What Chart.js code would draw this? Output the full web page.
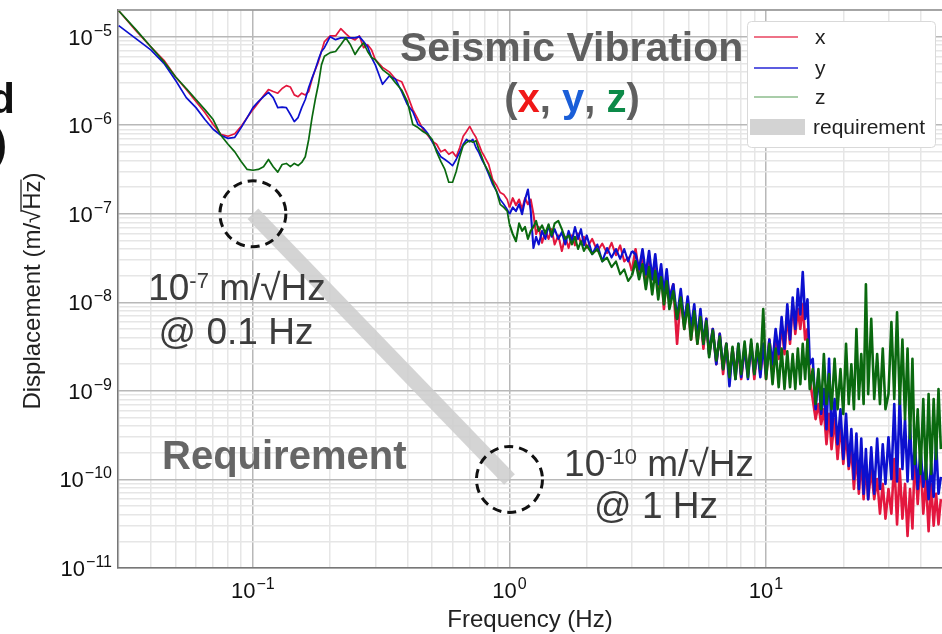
<!DOCTYPE html>
<html>
<head>
<meta charset="utf-8">
<script src="https://cdn.jsdelivr.net/npm/chart.js@4.4.0/dist/chart.umd.min.js"></script>
<style>
  html, body { margin: 0; padding: 0; background: #fff; }
  #wrap { position: relative; width: 942px; height: 634px; }
</style>
</head>
<body>
<div id="wrap"><canvas id="chart-psd"></canvas></div>
<script>
// frecuencias (Hz)
const freqs = [
  0.03, 0.035, 0.04, 0.045, 0.05, 0.055, 0.06, 0.065, 0.07, 0.075, 0.08, 0.085, 0.09, 0.095,
  0.1, 0.105, 0.11, 0.115, 0.12, 0.125, 0.13, 0.135, 0.14, 0.145, 0.15, 0.155, 0.16, 0.165,
  0.17, 0.175, 0.18, 0.185, 0.19, 0.2, 0.21, 0.22, 0.23, 0.24, 0.25, 0.26, 0.27, 0.28, 0.29,
  0.3, 0.32, 0.34, 0.36, 0.38, 0.4, 0.42, 0.44, 0.46, 0.48, 0.5,
  0.52, 0.54, 0.56, 0.58, 0.6, 0.62, 0.64, 0.66, 0.68, 0.7, 0.72, 0.74, 0.76, 0.78, 0.8,
  0.83, 0.86, 0.89, 0.92, 0.95, 0.98, 1.0, 1.03, 1.06, 1.09, 1.12, 1.15, 1.18, 1.21, 1.24,
  1.27, 1.3, 1.34, 1.38, 1.42, 1.46, 1.5, 1.55, 1.6, 1.65, 1.7, 1.75, 1.8, 1.85, 1.9, 1.95,
  2.0, 2.1, 2.2, 2.3, 2.4, 2.5, 2.6, 2.7, 2.8, 2.9, 3.0,
  3.1, 3.2, 3.3, 3.4, 3.5, 3.6, 3.7, 3.8, 3.9, 4.0,
  4.1, 4.2, 4.35, 4.5, 4.65, 4.8, 4.95, 5.1, 5.25, 5.4,
  5.55, 5.7, 5.85, 6.0, 6.2, 6.4, 6.6, 6.8, 7.0, 7.2,
  7.4, 7.6, 7.8, 8.0, 8.25, 8.5, 8.75, 9.0, 9.25, 9.5,
  9.75, 10, 10.3, 10.6, 10.9, 11.2, 11.5, 11.8, 12.1, 12.4,
  12.7, 13, 13.3, 13.6, 13.9, 14.2, 14.5, 14.8, 15.2, 15.6,
  16, 16.4, 16.8, 17.2, 17.6, 18, 18.5, 19, 19.5, 20,
  20.5, 21, 21.5, 22, 22.5, 23, 23.5, 24, 24.5, 25,
  25.7, 26.4, 27.1, 27.8, 28.5, 29.2, 30, 30.8, 31.6, 32.4,
  33.2, 34, 34.8, 35.6, 36.4, 37.2, 38, 39, 40, 41,
  42, 43, 44, 45, 46, 47, 48
]

// desplazamiento eje x (m/sqrt(Hz))
const dispX = [
  1.96e-5, 1.17e-5, 7.7e-6, 5.4e-6, 3.5e-6, 2.53e-6, 1.85e-6, 1.39e-6, 1.02e-6, 7.9e-7,
  7.5e-7, 8.0e-7, 9.7e-7, 1.22e-6, 1.5e-6, 1.8e-6, 2.15e-6, 2.53e-6, 2.4e-6, 2.3e-6,
  2.6e-6, 2.8e-6, 2.7e-6, 2.2e-6, 2.1e-6, 2.3e-6, 2.2e-6, 2.4e-6, 3.3e-6, 4.25e-6,
  5.2e-6, 6.8e-6, 8.8e-6, 1.02e-5, 1.02e-5, 1.23e-5, 1.08e-5, 9.7e-6, 9.2e-6, 1.02e-5,
  7.5e-6, 8.1e-6, 7.1e-6, 5.5e-6, 4.5e-6, 4.0e-6, 3.3e-6, 3.1e-6, 2.2e-6, 1.5e-6,
  1.16e-6, 9.0e-7, 7.7e-7, 6.6e-7,
  6.1e-7, 5.0e-7, 5.3e-7, 4.7e-7, 5.0e-7, 4.4e-7, 5.6e-7, 7.5e-7, 8.5e-7, 9.7e-7, 8.3e-7,
  7.3e-7, 6.1e-7, 5.0e-7, 4.4e-7, 3.6e-7, 2.44e-7, 2.1e-7, 1.74e-7, 1.65e-7, 1.45e-7,
  1.18e-7, 1.5e-7, 1.25e-7, 1.45e-7, 1.12e-7, 1.5e-7, 1.28e-7, 1.45e-7, 9.9e-8, 5.9e-8,
  7.1e-8, 4.7e-8, 6.4e-8, 5.2e-8, 6.7e-8, 4.5e-8, 5.7e-8, 3.8e-8, 5.5e-8, 4.1e-8, 5.7e-8,
  4.4e-8, 6.0e-8, 4.6e-8, 5.5e-8, 4.1e-8, 5.2e-8, 3.8e-8, 4.6e-8, 3.6e-8, 4.7e-8, 3.4e-8,
  4.4e-8, 2.9e-8, 3.2e-8, 2.25e-8,
  3.97e-8, 2.07e-8, 3.49e-8, 1.6e-8, 3.06e-8, 1.82e-8, 2.69e-8, 1.41e-8, 2.36e-8, 8.4e-9,
  2.07e-8, 1.08e-8, 1.6e-8, 3.4e-9, 1.23e-8, 5.0e-9, 1.08e-8, 3.8e-9, 8.4e-9, 3.4e-9,
  7.3e-9, 3.0e-9, 6.5e-9, 2.6e-9, 5.0e-9, 2.0e-9, 4.4e-9, 1.55e-9, 3.4e-9, 1.36e-9,
  3.0e-9, 1.55e-9, 3.0e-9, 1.36e-9, 3.0e-9, 1.55e-9, 3.4e-9, 1.36e-9, 3.0e-9, 1.55e-9,
  3.4e-9, 1.36e-9, 3.8e-9, 1.76e-9, 4.4e-9, 2.3e-9, 5.7e-9, 2.6e-9, 7.3e-9, 3.4e-9,
  1.0e-8, 4.4e-9, 8.4e-9, 5.0e-9, 9.5e-9, 3.8e-9, 5.0e-9, 1.36e-9, 8.1e-10, 4.8e-10,
  7.1e-10, 4.2e-10, 6.2e-10, 2.5e-10, 5.5e-10, 2.2e-10, 4.8e-10, 1.7e-10, 4.2e-10, 1.5e-10,
  3.3e-10, 1.31e-10, 2.2e-10, 7.8e-11, 1.94e-10, 6.9e-11, 1.7e-10, 6.0e-11, 1.5e-10, 6.0e-11,
  1.31e-10, 6.0e-11, 1.01e-10, 4.1e-11, 8.9e-11, 3.6e-11, 7.8e-11, 4.1e-11, 1.7e-10, 3.1e-11,
  1.31e-10, 3.6e-11, 8.9e-11, 2.3e-11, 7.8e-11, 2.8e-11, 1.94e-10, 5.3e-11, 1.7e-10, 4.1e-11,
  1.01e-10, 2.6e-11, 8.9e-11, 3.0e-11, 6.9e-11, 3.1e-11, 6.0e-11
]

// desplazamiento eje y
const dispY = [
  1.33e-5, 9.5e-6, 7.1e-6, 5.0e-6, 3.2e-6, 2.05e-6, 1.58e-6, 1.16e-6, 9.0e-7, 7.7e-7,
  7.1e-7, 7.3e-7, 9.4e-7, 1.22e-6, 1.58e-6, 1.85e-6, 2.1e-6, 2.35e-6, 2.05e-6, 1.58e-6,
  1.6e-6, 1.58e-6, 1.32e-6, 1.1e-6, 1.22e-6, 1.58e-6, 1.95e-6, 2.66e-6, 3.4e-6, 4.25e-6,
  5.5e-6, 6.8e-6, 7.5e-6, 1.0e-5, 9.25e-6, 9.7e-6, 9.7e-6, 9.7e-6, 9.7e-6, 1.0e-5,
  8.8e-6, 7.7e-6, 5.8e-6, 4.8e-6, 2.9e-6, 3.6e-6, 3.3e-6, 2.4e-6, 1.71e-6, 1.42e-6,
  1.02e-6, 9.4e-7, 8.1e-7, 6.5e-7,
  5.3e-7, 4.4e-7, 4.1e-7, 3.8e-7, 3.5e-7, 4.1e-7, 5.0e-7, 6.1e-7, 6.9e-7, 6.5e-7, 6.9e-7,
  5.6e-7, 4.9e-7, 4.1e-7, 3.6e-7, 2.78e-7, 2.15e-7, 1.8e-7, 1.45e-7, 1.28e-7, 1.12e-7,
  9.9e-8, 1.18e-7, 1.07e-7, 1.28e-7, 9.9e-8, 1.45e-7, 1.88e-7, 1.07e-7, 4.1e-8, 5.5e-8,
  4.5e-8, 6.4e-8, 5.2e-8, 7.4e-8, 5.5e-8, 6.7e-8, 5.2e-8, 6.2e-8, 4.5e-8, 6.4e-8, 4.9e-8,
  7.1e-8, 5.2e-8, 6.7e-8, 4.4e-8, 5.7e-8, 3.5e-8, 4.5e-8, 2.9e-8, 4.1e-8, 3.2e-8, 4.0e-8,
  3.1e-8, 4.0e-8, 2.9e-8, 3.8e-8,
  3.49e-8, 2.36e-8, 3.97e-8, 2.07e-8, 3.8e-8, 1.82e-8, 3.49e-8, 1.6e-8, 2.69e-8, 1.23e-8,
  2.36e-8, 1.08e-8, 1.6e-8, 6.5e-9, 1.41e-8, 5.7e-9, 1.16e-8, 5.0e-9, 9.5e-9, 3.8e-9,
  8.4e-9, 3.4e-9, 6.5e-9, 2.6e-9, 5.0e-9, 2.0e-9, 4.4e-9, 1.76e-9, 3.4e-9, 1.13e-9,
  3.0e-9, 1.36e-9, 3.4e-9, 1.43e-9, 3.15e-9, 1.36e-9, 3.4e-9, 1.55e-9, 3.0e-9, 1.43e-9,
  3.4e-9, 1.55e-9, 3.8e-9, 2.0e-9, 5.0e-9, 2.6e-9, 6.8e-9, 3.0e-9, 9.5e-9, 3.8e-9,
  1.13e-8, 5.0e-9, 1.41e-8, 7.3e-9, 2.2e-8, 6.5e-9, 1.08e-8, 2.0e-9, 2.3e-9, 6.2e-10,
  1.55e-9, 5.5e-10, 1.05e-9, 3.7e-10, 2.3e-9, 3.1e-10, 8.1e-10, 2.5e-10, 6.2e-10, 1.7e-10,
  5.5e-10, 1.42e-10, 3.7e-10, 1.01e-10, 3.3e-10, 7.8e-11, 2.9e-10, 6.9e-11, 2.2e-10, 6.0e-11,
  2.3e-10, 6.9e-11, 2.9e-10, 7.8e-11, 2.5e-10, 8.9e-11, 3.0e-10, 1.01e-10, 7.1e-10, 9.5e-11,
  8.8e-10, 1.31e-10, 4.8e-10, 9.5e-11, 4.2e-10, 1.01e-10, 2.5e-10, 7.8e-11, 2.2e-10, 8.3e-11,
  1.5e-10, 6.0e-11, 1.5e-10, 6.4e-11, 2.7e-10, 6.9e-11, 1.07e-10
]

// desplazamiento eje z
const dispZ = [
  1.96e-5, 1.2e-5, 7.7e-6, 5.2e-6, 3.5e-6, 2.6e-6, 1.95e-6, 1.5e-6, 1.16e-6, 7.7e-7,
  6.1e-7, 5.0e-7, 3.9e-7, 3.17e-7, 3.1e-7, 3.17e-7, 3.4e-7, 4.1e-7, 3.4e-7, 2.95e-7,
  3.6e-7, 3.7e-7, 3.4e-7, 3.7e-7, 3.5e-7, 3.8e-7, 4.4e-7, 6.9e-7, 1.22e-6, 1.95e-6,
  2.9e-6, 4.8e-6, 6.0e-6, 6.6e-6, 6.8e-6, 8.1e-6, 9.7e-6, 8.1e-6, 6.3e-6, 7.5e-6,
  8.5e-6, 6.8e-6, 5.8e-6, 5.5e-6, 4.25e-6, 3.7e-6, 3.0e-6, 2.5e-6, 1.85e-6, 1.02e-6,
  9.4e-7, 8.5e-7, 7.9e-7, 6.9e-7,
  5.0e-7, 3.9e-7, 3.17e-7, 2.27e-7, 2.27e-7, 3.0e-7, 4.4e-7, 5.9e-7, 6.4e-7, 6.7e-7, 6.4e-7,
  6.7e-7, 5.3e-7, 4.4e-7, 3.6e-7, 2.95e-7, 2.3e-7, 1.8e-7, 1.28e-7, 1.18e-7, 1.07e-7,
  7.6e-8, 5.9e-8, 4.9e-8, 7.8e-8, 6.4e-8, 7.1e-8, 5.2e-8, 6.4e-8, 7.1e-8, 8.3e-8,
  6.4e-8, 7.4e-8, 6.0e-8, 7.6e-8, 5.7e-8, 7.8e-8, 8.3e-8, 6.7e-8, 5.2e-8, 5.7e-8, 4.5e-8,
  5.5e-8, 4.0e-8, 4.9e-8, 3.8e-8, 4.4e-8, 3.5e-8, 4.0e-8, 2.9e-8, 3.2e-8, 2.5e-8, 2.9e-8,
  2.07e-8, 2.36e-8, 1.74e-8, 2.0e-8,
  2.9e-8, 1.82e-8, 2.69e-8, 1.41e-8, 2.5e-8, 1.23e-8, 2.25e-8, 1.08e-8, 1.92e-8, 9.5e-9,
  1.73e-8, 8.4e-9, 1.33e-8, 6.5e-9, 1.13e-8, 5.0e-9, 9.5e-9, 3.8e-9, 7.9e-9, 3.4e-9,
  6.8e-9, 3.4e-9, 6.1e-9, 2.4e-9, 4.8e-9, 2.2e-9, 4.1e-9, 1.76e-9, 3.4e-9, 1.43e-9,
  3.15e-9, 1.36e-9, 3.4e-9, 1.55e-9, 3.6e-9, 1.43e-9, 3.8e-9, 1.55e-9, 3.4e-9, 1.76e-9,
  8.4e-9, 1.36e-9, 3.4e-9, 1.19e-9, 3.0e-9, 1.1e-9, 3.0e-9, 1.05e-9, 2.8e-9, 1.1e-9,
  2.6e-9, 1.05e-9, 3.0e-9, 1.19e-9, 3.4e-9, 1.36e-9, 3.8e-9, 1.05e-9, 1.76e-9, 7.1e-10,
  1.76e-9, 6.2e-10, 2.6e-9, 7.1e-10, 1.55e-9, 6.2e-10, 2.3e-9, 6.2e-10, 1.76e-9, 5.5e-10,
  3.4e-9, 7.1e-10, 2.0e-9, 6.2e-10, 5.0e-9, 8.1e-10, 2.6e-9, 7.1e-10, 1.6e-8, 9.2e-10,
  6.5e-9, 8.1e-10, 2.6e-9, 7.1e-10, 3.0e-9, 6.2e-10, 9.2e-10, 6.0e-9, 8.1e-10, 7.7e-9,
  7.1e-10, 3.8e-9, 4.8e-10, 3.0e-9, 2.9e-10, 2.3e-9, 1.5e-10, 6.2e-10, 1.15e-10, 8.1e-10,
  1.01e-10, 9.2e-10, 1.15e-10, 8.1e-10, 1.7e-10, 1.05e-9, 2.2e-10
]

// requerimiento
const reqFreqs = [0.1, 1]
const reqValues = [1e-7, 1e-10]

// ticks
const xMajorTicks = [0.1, 1, 10]
const xTickExps = ['\u22121', '0', '1']
const yMajorTicks = [1e-11, 1e-10, 1e-9, 1e-8, 1e-7, 1e-6, 1e-5]
const yTickExps = ['\u221211', '\u221210', '\u22129', '\u22128', '\u22127', '\u22126', '\u22125']

const FONT = '"Liberation Sans", Arial, sans-serif'

function puntos(xs, ys) {
  return xs.map((x, i) => ({ x, y: ys[i] }))
}

function conMenores(majors, min, max) {
  const ticks = []
  majors.concat([majors[0] / 10]).forEach(d => {
    for (let m = 1; m <= 9; m++) {
      const v = d * m
      if (v >= min * 0.999 && v <= max * 1.001) ticks.push({ value: v })
    }
  })
  return ticks.sort((a, b) => a.value - b.value)
}

function esMayor(v) {
  const l = Math.log10(v)
  return Math.abs(l - Math.round(l)) < 1e-6
}

function potencia(ctx, exp, x, y, align) {
  ctx.font = `22px ${FONT}`
  const w10 = ctx.measureText('10').width
  ctx.font = `16px ${FONT}`
  const wExp = ctx.measureText(exp).width
  const total = w10 + 1 + wExp
  const x0 = align === 'right' ? x - total : x - total / 2
  ctx.textAlign = 'left'
  ctx.font = `22px ${FONT}`
  ctx.fillText('10', x0, y)
  ctx.font = `16px ${FONT}`
  ctx.fillText(exp, x0 + w10 + 1, y - 9)
}

function textoPartes(ctx, partes, cx, y) {
  let total = 0
  partes.forEach(p => {
    ctx.font = p.font
    p.w = ctx.measureText(p.t).width
    total += p.w
  })
  let x = cx - total / 2
  ctx.textAlign = 'left'
  partes.forEach(p => {
    ctx.font = p.font
    ctx.fillStyle = p.color
    ctx.fillText(p.t, x, y - (p.rise || 0))
    x += p.w
  })
}

const overlay = {
  id: 'overlay',
  afterDatasetsDraw(chart) {
    const { ctx, scales: { x, y } } = chart
    ctx.save()
    ctx.strokeStyle = '#111'
    ctx.lineWidth = 3
    ctx.setLineDash([9, 6])
    reqFreqs.forEach((f, i) => {
      ctx.beginPath()
      ctx.arc(x.getPixelForValue(f), y.getPixelForValue(reqValues[i]), 33, 0, Math.PI * 2)
      ctx.stroke()
    })
    ctx.restore()
  },
  afterDraw(chart) {
    const { ctx, chartArea: area, scales: { x, y } } = chart
    ctx.save()

    // borde superior
    ctx.strokeStyle = '#8c8c8c'
    ctx.lineWidth = 1.5
    ctx.beginPath()
    ctx.moveTo(area.left, area.top)
    ctx.lineTo(area.right, area.top)
    ctx.stroke()

    // etiquetas de ticks
    ctx.fillStyle = '#111'
    ctx.textBaseline = 'alphabetic'
    yMajorTicks.forEach((v, i) => potencia(ctx, yTickExps[i], 112, y.getPixelForValue(v) + 8, 'right'))
    xMajorTicks.forEach((v, i) => potencia(ctx, xTickExps[i], x.getPixelForValue(v), 598, 'center'))

    // titulos de ejes
    ctx.fillStyle = '#222'
    ctx.font = `24px ${FONT}`
    ctx.textAlign = 'center'
    ctx.fillText('Frequency (Hz)', (area.left + area.right) / 2, 627)

    ctx.save()
    ctx.translate(40, 291)
    ctx.rotate(-Math.PI / 2)
    ctx.font = `24px ${FONT}`
    const tituloY = 'Displacement (m/\u221AHz)'
    const wTot = ctx.measureText(tituloY).width
    const wPre = ctx.measureText('Displacement (m/\u221A').width
    const wHz = ctx.measureText('Hz').width
    ctx.textAlign = 'left'
    ctx.fillText(tituloY, -wTot / 2, 0)
    ctx.strokeStyle = '#222'
    ctx.lineWidth = 1.3
    ctx.beginPath()
    ctx.moveTo(-wTot / 2 + wPre - 2, -19)
    ctx.lineTo(-wTot / 2 + wPre + wHz + 1, -19)
    ctx.stroke()
    ctx.restore()

    // leyenda
    ctx.fillStyle = '#fff'
    ctx.strokeStyle = '#d9d9d9'
    ctx.lineWidth = 1
    ctx.beginPath()
    ctx.roundRect(747.5, 21.5, 188, 126, 4)
    ctx.fill()
    ctx.stroke()
    const legendColors = ['#e8435f', '#2626d6', '#8dbd8d']
    const rows = [37, 68, 97]
    ctx.font = `21px ${FONT}`
    ctx.textAlign = 'left'
    chart.data.datasets.slice(0, 3).forEach((ds, i) => {
      ctx.strokeStyle = legendColors[i]
      ctx.lineWidth = 1.5
      ctx.beginPath()
      ctx.moveTo(754, rows[i])
      ctx.lineTo(798, rows[i])
      ctx.stroke()
      ctx.fillStyle = '#222'
      ctx.fillText(ds.label, 815, rows[i] + 7)
    })
    ctx.fillStyle = '#d3d3d3'
    ctx.fillRect(750, 119, 55, 16)
    ctx.fillStyle = '#222'
    ctx.fillText(chart.data.datasets[3].label, 813, 134)

    // anotaciones
    ctx.fillStyle = '#5f5f5f'
    ctx.font = `bold 41px ${FONT}`
    ctx.textAlign = 'left'
    ctx.fillText('Seismic Vibration', 400, 61)

    const gris = '#5f5f5f'
    const fb = `bold 40px ${FONT}`
    textoPartes(ctx, [
      { t: '(', font: fb, color: gris },
      { t: 'x', font: fb, color: '#f01818' },
      { t: ', ', font: fb, color: gris },
      { t: 'y', font: fb, color: '#1a5ed8' },
      { t: ', ', font: fb, color: gris },
      { t: 'z', font: fb, color: '#0c8a48' },
      { t: ')', font: fb, color: gris }
    ], 572, 112)

    ctx.fillStyle = '#666'
    ctx.font = `bold 40px ${FONT}`
    ctx.textAlign = 'left'
    ctx.fillText('Requirement', 162, 469)

    const oscuro = '#3c3c3c'
    const fr = `37px ${FONT}`
    const fs = `22px ${FONT}`
    textoPartes(ctx, [
      { t: '10', font: fr, color: oscuro },
      { t: '-7', font: fs, color: oscuro, rise: 12 },
      { t: ' m/\u221AHz', font: fr, color: oscuro }
    ], 237, 300)
    textoPartes(ctx, [{ t: '@ 0.1 Hz', font: fr, color: oscuro }], 236, 344)
    textoPartes(ctx, [
      { t: '10', font: fr, color: oscuro },
      { t: '-10', font: fs, color: oscuro, rise: 12 },
      { t: ' m/\u221AHz', font: fr, color: oscuro }
    ], 659, 476)
    textoPartes(ctx, [{ t: '@ 1 Hz', font: fr, color: oscuro }], 656, 518)

    // texto recortado del borde izquierdo
    ctx.fillStyle = '#111'
    ctx.font = `bold 42px ${FONT}`
    ctx.textAlign = 'right'
    ctx.fillText('d', 15, 113)
    ctx.fillText(')', 7, 158)

    ctx.restore()
  }
}

function gridColor(c) {
  return esMayor(c.tick.value) ? '#b8b8b8' : '#e6e6e6'
}

// tramo ruidoso con trazo mas grueso
function anchoTramo(c) {
  const f = c.p0.parsed.x
  if (f >= 3) return 2.6
  if (f >= 1) return 2.1
  return 1.7
}

const ctx = document.getElementById('chart-psd').getContext('2d')

new Chart(ctx, {
  type: 'line',
  data: {
    datasets: [
      {
        label: 'x',
        data: puntos(freqs, dispX),
        borderColor: '#e3173e',
        borderWidth: 1.7,
        segment: { borderWidth: anchoTramo },
        order: 2
      },
      {
        label: 'y',
        data: puntos(freqs, dispY),
        borderColor: '#0c10cf',
        borderWidth: 1.7,
        segment: { borderWidth: anchoTramo },
        order: 1
      },
      {
        label: 'z',
        data: puntos(freqs, dispZ),
        borderColor: '#0a690f',
        borderWidth: 1.7,
        segment: { borderWidth: anchoTramo },
        order: 0
      },
      {
        label: 'requirement',
        data: puntos(reqFreqs, reqValues),
        borderColor: 'rgba(205, 205, 205, 0.85)',
        borderWidth: 15,
        borderCapStyle: 'butt',
        order: 3
      }
    ]
  },
  options: {
    responsive: true,
    maintainAspectRatio: false,
    animation: false,
    events: [],
    elements: {
      point: { radius: 0 },
      line: { tension: 0, borderJoinStyle: 'round' }
    },
    layout: { padding: { left: 118, top: 10, right: 0, bottom: 66 } },
    plugins: {
      legend: { display: false },
      tooltip: { enabled: false }
    },
    scales: {
      x: {
        type: 'logarithmic',
        min: 0.0298,
        max: 48.5,
        afterBuildTicks: scale => { scale.ticks = conMenores(xMajorTicks, 0.0298, 48.5) },
        ticks: { display: false },
        grid: { color: gridColor, lineWidth: 1.5, drawTicks: false },
        border: { display: true, color: '#777', width: 1.5 }
      },
      y: {
        type: 'logarithmic',
        min: 1e-11,
        max: 2.0e-5,
        afterBuildTicks: scale => { scale.ticks = conMenores(yMajorTicks, 1e-11, 2.0e-5) },
        ticks: { display: false },
        grid: { color: gridColor, lineWidth: 1.5, drawTicks: false },
        border: { display: true, color: '#777', width: 1.5 }
      }
    }
  },
  plugins: [overlay]
})
</script>
</body>
</html>
